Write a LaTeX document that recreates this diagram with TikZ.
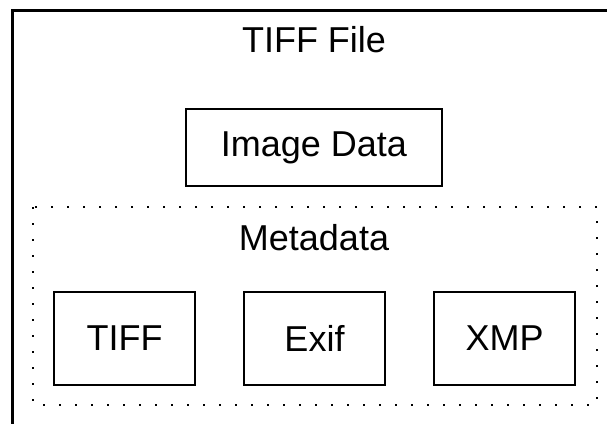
\documentclass[tikz,border=0pt]{standalone}
\usepackage{fontspec}
\setmainfont{Liberation Sans}
\usetikzlibrary{positioning}

\begin{document}
\begin{tikzpicture}[x=1pt,y=-1pt,node distance=47pt,
  every node/.style={font=\fontsize{36}{40}\selectfont},
  box node/.style={draw,line width=2pt,inner sep=0pt,minimum width=141pt,minimum height=93pt},
  data node/.style={box node,minimum width=256pt,minimum height=77pt},
  dotted frame/.style={line width=2pt,dash pattern=on 2pt off 14pt}]

  \useasboundingbox (0,0) rectangle (607,423);
  \clip (0,0) rectangle (607,423);

  % file border runs off the page on the right and bottom
  \draw[line width=3pt] (12,10) rectangle (630,450);
  \node (file) at (314,40) {TIFF File};
  \node[data node] (image) at (314,147.5) {Image Data};

  % metadata group
  \draw[dotted frame] (33,207) rectangle (597,405);
  \node (meta) at (314,238) {Metadata};
  \node[box node] (tiff) at (124.5,338.5) {TIFF};
  \node[box node,right=of tiff] (exif) {Exif};
  \node[box node,right=of exif] (xmp) {XMP};
\end{tikzpicture}
\end{document}
